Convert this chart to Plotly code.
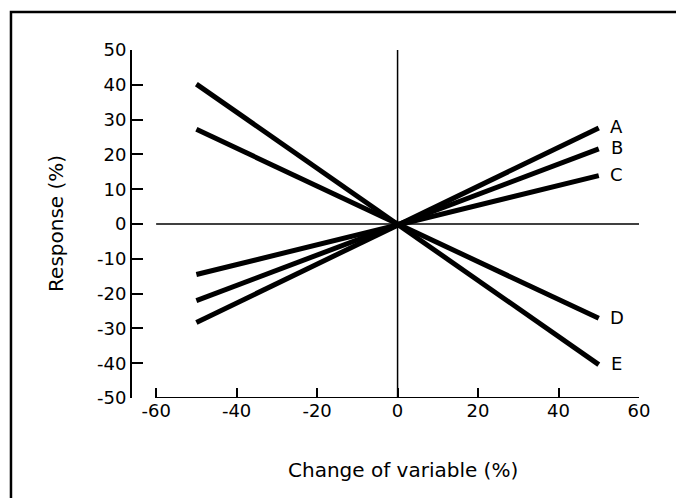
import plotly.graph_objects as go

# Data
series_names = ["A", "B", "C", "D", "E"]
x_ends = [-50, 50]
values_A = [-28.3, 27.6]
values_B = [-22.0, 21.6]
values_C = [-14.5, 13.9]
values_D = [27.2, -27.1]
values_E = [40.2, -40.4]
all_values = [values_A, values_B, values_C, values_D, values_E]

y_tickvals = [50, 40, 30, 20, 10, 0, -10, -20, -30, -40, -50]
y_ticktext = ["50", "40", "30", "20", "10", "0", "-10", "-20", "-30", "-40", "-50"]
x_tickvals = [-60, -40, -20, 0, 20, 40, 60]
x_ticktext = ["-60", "-40", "-20", "0", "20", "40", "60"]

FONT = "DejaVu Sans"

fig = go.Figure()
for name, vals in zip(series_names, all_values):
    fig.add_trace(go.Scatter(x=x_ends, y=vals, mode="lines", name=name,
                             line=dict(color="black", width=5),
                             showlegend=False, hoverinfo="skip"))
    fig.add_annotation(x=54.5, y=vals[1], text=name, showarrow=False,
                       xanchor="center", yanchor="middle", yshift=1,
                       font=dict(family=FONT, size=18, color="black"))

# centre axes
fig.add_shape(type="line", x0=-60, x1=60, y0=0, y1=0, xref="x", yref="y",
              line=dict(color="black", width=1.5), layer="below")
fig.add_shape(type="line", x0=0, x1=0, y0=-50, y1=50, xref="x", yref="y",
              line=dict(color="black", width=1.5), layer="below")
# bottom axis line from -60 to 60
fig.add_shape(type="line", x0=-60, x1=60, y0=-50, y1=-50, xref="x", yref="y",
              line=dict(color="black", width=2))

# figure border (left and top)
fig.add_shape(type="path", xref="paper", yref="paper",
              path="M -0.2387 -0.29 L -0.2387 1.109 L 1.08 1.109",
              line=dict(color="black", width=2.5))

fig.update_xaxes(range=[-66, 60], showline=False, zeroline=False, showgrid=False,
                 tickmode="array", tickvals=x_tickvals, ticktext=x_ticktext,
                 ticks="inside", ticklen=10, tickwidth=2, tickcolor="black",
                 tickfont=dict(family=FONT, size=18, color="black"))
fig.update_yaxes(range=[-50, 50], showline=True, linecolor="black", linewidth=2,
                 zeroline=False, showgrid=False,
                 tickmode="array", tickvals=y_tickvals, ticktext=y_ticktext,
                 ticks="inside", ticklen=11, tickwidth=2, tickcolor="black",
                 tickfont=dict(family=FONT, size=18, color="black"))

fig.add_annotation(xref="paper", yref="paper", x=-0.15, y=0.503,
                   text="Response (%)", textangle=-90, showarrow=False,
                   xanchor="center", yanchor="middle",
                   font=dict(family=FONT, size=20, color="black"))
fig.add_annotation(xref="paper", yref="paper", x=0.5345, y=-0.207,
                   text="Change of variable (%)", showarrow=False,
                   xanchor="center", yanchor="middle",
                   font=dict(family=FONT, size=20, color="black"))

fig.update_layout(width=676, height=498,
                  margin=dict(l=132, r=37, t=50, b=100),
                  paper_bgcolor="white", plot_bgcolor="white")

fig.write_html("out.html")
